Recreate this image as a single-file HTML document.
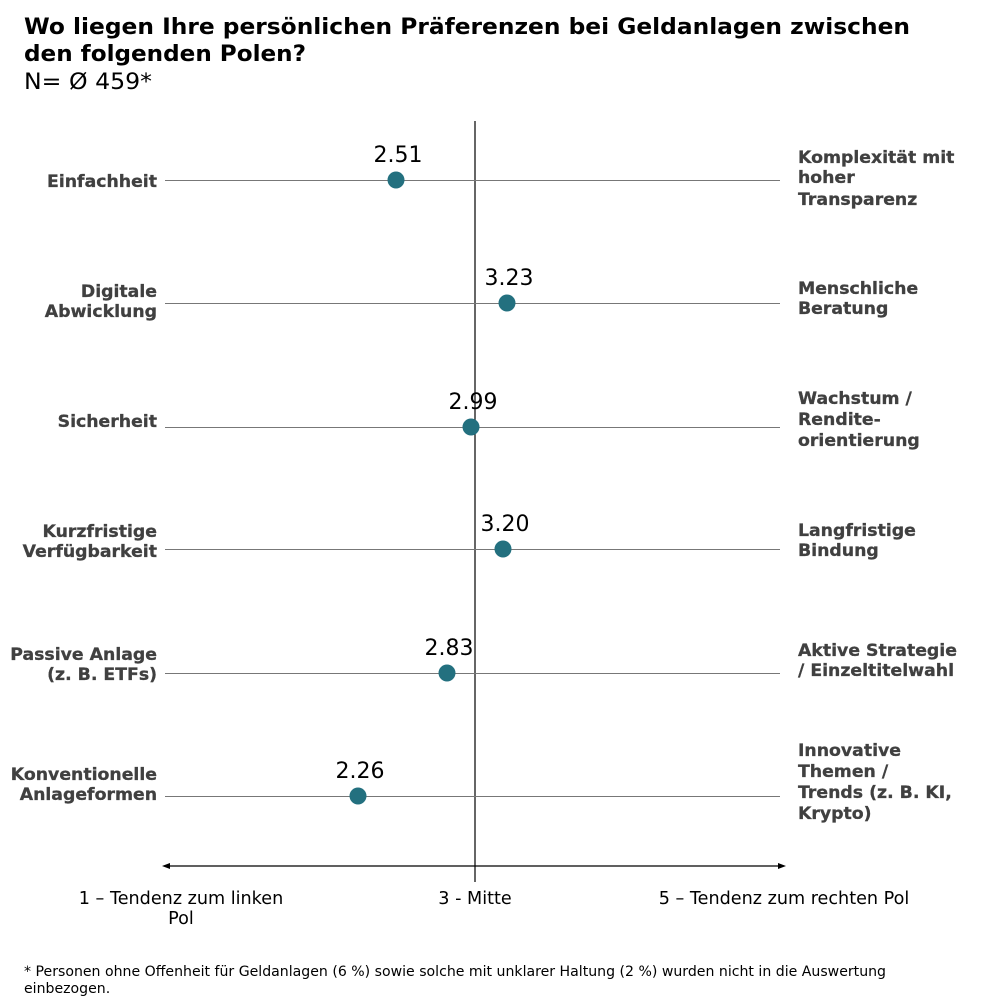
<!DOCTYPE html>
<html><head><meta charset="utf-8"><style>
html,body{margin:0;padding:0;background:#fff}
svg{display:block}
text{font-family:"DejaVu Sans","Liberation Sans",sans-serif}
.l{font-weight:bold;font-size:17.3px;fill:#404040;stroke:#404040;stroke-width:0.3px}
.v{font-size:22px;fill:#000}
.a{font-size:17.6px;fill:#000}
</style></head><body>
<svg width="1008" height="1002" viewBox="0 0 1008 1002" xmlns="http://www.w3.org/2000/svg">
<text x="24" y="34" font-size="22" font-weight="bold" textLength="886" lengthAdjust="spacingAndGlyphs">Wo liegen Ihre persönlichen Präferenzen bei Geldanlagen zwischen</text>
<text x="24" y="61" font-size="22" font-weight="bold" textLength="282" lengthAdjust="spacingAndGlyphs">den folgenden Polen?</text>
<text x="24" y="89" font-size="22" textLength="128" lengthAdjust="spacingAndGlyphs">N= Ø 459*</text>

<line x1="475" y1="121" x2="475" y2="882" stroke="#000" stroke-width="1.2"/>
<g stroke="#777" stroke-width="1">
<line x1="165" y1="180.5" x2="780" y2="180.5"/>
<line x1="165" y1="303.5" x2="780" y2="303.5"/>
<line x1="165" y1="427.5" x2="780" y2="427.5"/>
<line x1="165" y1="549.5" x2="780" y2="549.5"/>
<line x1="165" y1="673.5" x2="780" y2="673.5"/>
<line x1="165" y1="796.5" x2="780" y2="796.5"/>
</g>
<line x1="166" y1="866" x2="782" y2="866" stroke="#000" stroke-width="1.2"/>
<polygon points="162,866 170,863 170,869" fill="#000"/>
<polygon points="786,866 778,863 778,869" fill="#000"/>

<g fill="#23707f">
<circle cx="396" cy="180" r="8.5"/>
<circle cx="507" cy="303" r="8.5"/>
<circle cx="471" cy="427" r="8.5"/>
<circle cx="503" cy="549" r="8.5"/>
<circle cx="447" cy="673" r="8.5"/>
<circle cx="358" cy="796" r="8.5"/>
</g>
<g text-anchor="middle">
<text x="398" y="162" class="v">2.51</text>
<text x="509" y="285" class="v">3.23</text>
<text x="473" y="409" class="v">2.99</text>
<text x="505" y="531" class="v">3.20</text>
<text x="449" y="655" class="v">2.83</text>
<text x="360" y="778" class="v">2.26</text>
</g>

<g text-anchor="end">
<text x="157" y="187" class="l">Einfachheit</text>
<text x="157" y="297" class="l">Digitale</text>
<text x="157" y="317" class="l">Abwicklung</text>
<text x="157" y="427" class="l">Sicherheit</text>
<text x="157" y="537" class="l">Kurzfristige</text>
<text x="157" y="557" class="l">Verfügbarkeit</text>
<text x="157" y="660" class="l">Passive Anlage</text>
<text x="157" y="680" class="l">(z. B. ETFs)</text>
<text x="157" y="780" class="l">Konventionelle</text>
<text x="157" y="800" class="l">Anlageformen</text>
</g>
<g>
<text x="798" y="163" class="l">Komplexität mit</text>
<text x="798" y="183" class="l">hoher</text>
<text x="798" y="205" class="l">Transparenz</text>
<text x="798" y="294" class="l">Menschliche</text>
<text x="798" y="314" class="l">Beratung</text>
<text x="798" y="404" class="l">Wachstum /</text>
<text x="798" y="425" class="l">Rendite-</text>
<text x="798" y="446" class="l">orientierung</text>
<text x="798" y="536" class="l">Langfristige</text>
<text x="798" y="556" class="l">Bindung</text>
<text x="798" y="656" class="l">Aktive Strategie</text>
<text x="798" y="676" class="l">/ Einzeltitelwahl</text>
<text x="798" y="756" class="l">Innovative</text>
<text x="798" y="777" class="l">Themen /</text>
<text x="798" y="798" class="l">Trends (z. B. KI,</text>
<text x="798" y="819" class="l">Krypto)</text>
</g>

<g text-anchor="middle">
<text x="181" y="904" class="a">1 – Tendenz zum linken</text>
<text x="181" y="924" class="a">Pol</text>
<text x="475" y="904" class="a">3 - Mitte</text>
<text x="784" y="904" class="a">5 – Tendenz zum rechten Pol</text>
</g>

<text x="24" y="976" font-size="14.1" fill="#000">* Personen ohne Offenheit für Geldanlagen (6 %) sowie solche mit unklarer Haltung (2 %) wurden nicht in die Auswertung</text>
<text x="24" y="993" font-size="14.1" fill="#000">einbezogen.</text>
</svg>
</body></html>
